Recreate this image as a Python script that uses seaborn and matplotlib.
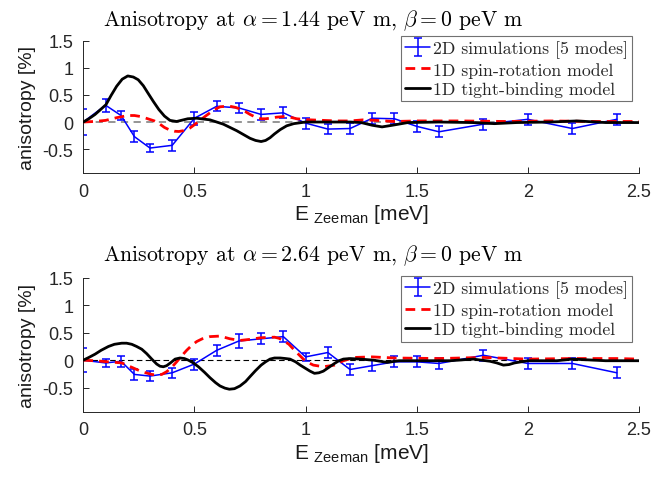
import numpy as np
import pandas as pd
import matplotlib
matplotlib.use("Agg")
import matplotlib.pyplot as plt
import seaborn as sns

sns.set_theme(style="white")
plt.rcParams['font.family'] = ['Liberation Sans', 'DejaVu Sans']
plt.rcParams['mathtext.fontset'] = 'custom'
plt.rcParams['mathtext.rm'] = 'Liberation Sans'
plt.rcParams['mathtext.it'] = 'Liberation Sans:italic'

# ---------------- data ----------------
sim_x = [0, 0.1, 0.17, 0.23, 0.3, 0.4, 0.5, 0.6, 0.7, 0.8, 0.9, 1.0, 1.1, 1.2,
         1.3, 1.4, 1.5, 1.6, 1.8, 2.0, 2.2, 2.4]
sim_top = [0, 0.31, 0.12, -0.27, -0.48, -0.43, 0.07, 0.29, 0.26, 0.14, 0.17, -0.02,
           -0.13, -0.12, 0.07, 0.06, -0.08, -0.18, -0.04, 0.05, -0.12, 0.05]
err_top = [0.24, 0.12, 0.08, 0.1, 0.08, 0.1, 0.12, 0.09, 0.09, 0.1, 0.1, 0.1,
           0.1, 0.1, 0.1, 0.1, 0.1, 0.1, 0.1, 0.1, 0.1, 0.1]
sim_bot = [0, -0.05, -0.02, -0.26, -0.29, -0.23, -0.07, 0.18, 0.35, 0.39, 0.43, 0.06,
           0.14, -0.17, -0.1, -0.03, -0.03, -0.06, 0.09, -0.06, -0.06, -0.23]
err_bot = [0.22, 0.08, 0.1, 0.1, 0.09, 0.09, 0.1, 0.1, 0.12, 0.1, 0.1, 0.08,
           0.1, 0.1, 0.1, 0.1, 0.1, 0.1, 0.1, 0.1, 0.1, 0.1]

sr_top_x = [0, 0.05, 0.1, 0.15, 0.2, 0.23, 0.26, 0.29, 0.32, 0.345, 0.365, 0.39,
            0.41, 0.43, 0.45, 0.465, 0.48, 0.5, 0.525, 0.55, 0.57, 0.59, 0.615,
            0.64, 0.66, 0.685, 0.705, 0.73, 0.75, 0.775, 0.8, 0.82, 0.84, 0.87,
            0.9, 0.93, 0.96, 1.02, 1.08, 1.14, 1.2, 1.26, 1.32, 1.4, 1.5, 1.7,
            1.9, 2.1, 2.3, 2.5]
sr_top_y = [0, 0.01, 0.03, 0.08, 0.12, 0.12, 0.1, 0.06, 0.02, -0.04, -0.1, -0.15,
            -0.17, -0.175, -0.16, -0.14, -0.11, -0.05, 0.03, 0.11, 0.17, 0.23, 0.28,
            0.29, 0.29, 0.27, 0.24, 0.19, 0.14, 0.09, 0.06, 0.06, 0.07, 0.09,
            0.1, 0.09, 0.06, 0.04, 0.03, 0.02, 0.02, 0.04, 0.03, 0.01, 0.02, 0.02,
            0.01, 0.02, 0.01, 0.01]

tb_top_x = [0, 0.025, 0.053, 0.075, 0.102, 0.125, 0.15, 0.175, 0.2, 0.225, 0.247,
            0.27, 0.29, 0.315, 0.34, 0.365, 0.39, 0.42, 0.47, 0.51, 0.57, 0.6,
            0.63, 0.66, 0.69, 0.72, 0.75, 0.775, 0.8, 0.82, 0.84, 0.86, 0.886,
            0.915, 0.947, 1.0, 1.1, 1.2, 1.25, 1.3, 1.344, 1.39, 1.46, 1.6, 1.75,
            1.85, 1.95, 2.1, 2.22, 2.35, 2.5]
tb_top_y = [0, 0.06, 0.14, 0.22, 0.32, 0.49, 0.66, 0.79, 0.85, 0.83, 0.78,
            0.67, 0.54, 0.38, 0.23, 0.11, 0.03, 0.01, 0.06, 0.07, 0.04, 0.0,
            -0.04, -0.1, -0.16, -0.23, -0.3, -0.34, -0.36, -0.34, -0.29, -0.22, -0.14,
            -0.07, -0.03, 0.0, 0.0, 0.0, -0.01, -0.06, -0.09, -0.06, -0.01, 0.0, -0.01,
            -0.03, -0.01, 0.0, 0.02, -0.01, -0.01]

sr_bot_x = [0, 0.053, 0.113, 0.173, 0.218, 0.263, 0.308, 0.33, 0.353, 0.375, 0.398,
            0.42, 0.443, 0.465, 0.488, 0.51, 0.535, 0.57, 0.615, 0.66, 0.705,
            0.75, 0.8, 0.86, 0.88, 0.9, 0.925, 0.946, 0.97, 0.99, 1.01, 1.035,
            1.08, 1.13, 1.17, 1.22, 1.3, 1.4, 1.6, 1.8, 2.0, 2.2, 2.4, 2.5]
sr_bot_y = [0, -0.01, -0.03, -0.05, -0.13, -0.21, -0.26, -0.27, -0.26, -0.21, -0.13,
            -0.03, 0.08, 0.18, 0.27, 0.34, 0.39, 0.43, 0.44, 0.39, 0.36,
            0.38, 0.41, 0.42, 0.4, 0.36, 0.29, 0.2, 0.1, 0.02, -0.04, -0.09,
            -0.12, -0.09, -0.01, 0.05, 0.06, 0.04, 0.03, 0.05, 0.02, 0.03, 0.03, 0.02]

tb_bot_x = [0, 0.025, 0.053, 0.08, 0.113, 0.14, 0.173, 0.195, 0.218, 0.24, 0.263,
            0.285, 0.308, 0.33, 0.345, 0.36, 0.375, 0.395, 0.413, 0.435, 0.455,
            0.473, 0.495, 0.518, 0.545, 0.57, 0.595, 0.615, 0.637, 0.657, 0.68,
            0.705, 0.73, 0.75, 0.775, 0.8, 0.82, 0.84, 0.86, 0.886, 0.91, 0.93,
            0.955, 0.976, 1.0, 1.02, 1.04, 1.06, 1.08, 1.105, 1.13, 1.15, 1.17,
            1.2, 1.246, 1.306, 1.336, 1.366, 1.42, 1.53, 1.65, 1.755, 1.83, 1.86,
            1.89, 1.915, 1.94, 2.0, 2.13, 2.2, 2.35, 2.5]
tb_bot_y = [0, 0.05, 0.11, 0.18, 0.25, 0.29, 0.31, 0.31, 0.29, 0.25, 0.2,
            0.12, 0.02, -0.07, -0.11, -0.12, -0.1, -0.04, 0.02, 0.04, 0.03,
            0.0, -0.05, -0.12, -0.22, -0.32, -0.41, -0.47, -0.51, -0.53, -0.52,
            -0.47, -0.39, -0.3, -0.19, -0.09, -0.03, 0.02, 0.04, 0.04, 0.03, 0.02,
            -0.03, -0.09, -0.15, -0.2, -0.24, -0.23, -0.2, -0.13, -0.06, -0.01, 0.02,
            0.03, 0.02, 0.0, -0.02, -0.04, -0.01, -0.01, -0.01, 0.02, -0.02, -0.05,
            -0.09, -0.08, -0.05, -0.01, -0.01, 0.02, -0.01, -0.01]

titles = [r"Anisotropy at $\alpha = 1.44$ peV m, $\beta = 0$ peV m",
          r"Anisotropy at $\alpha = 2.64$ peV m, $\beta = 0$ peV m"]
legend_labels = ["2D simulations [5 modes]", "1D spin-rotation model",
                 "1D tight-binding model"]
xticks = [0, 0.5, 1, 1.5, 2, 2.5]
xtick_labels = ["0", "0.5", "1", "1.5", "2", "2.5"]
yticks = [-0.5, 0, 0.5, 1, 1.5]
ytick_labels = ["-0.5", "0", "0.5", "1", "1.5"]

# ---------------- figure ----------------
fig = plt.figure(figsize=(6.68, 4.81), dpi=100)
ax_top = fig.add_axes([0.1247, 0.6383, 0.8319, 0.2750])
ax_bot = fig.add_axes([0.1247, 0.1420, 0.8319, 0.2780])

panels = [
    (ax_top, sim_top, err_top, sr_top_x, sr_top_y, tb_top_x, tb_top_y, titles[0],
     dict(color='0.55', lw=1.3, dashes=(4, 3)), 1.035, 0.958),
    (ax_bot, sim_bot, err_bot, sr_bot_x, sr_bot_y, tb_bot_x, tb_bot_y, titles[1],
     dict(color='black', lw=0.8, dashes=(5, 3)), 1.013, 0.468),
]

for ax, sy, se, rx, ry, bx, by, title, zl, ltop, ty in panels:
    ax.plot([0, 2.5], [0, 0], **zl, zorder=1)
    eb = ax.errorbar(sim_x, sy, yerr=se, color=(0, 0, 1), lw=1.1, capsize=3,
                     capthick=1.1, elinewidth=1.1, zorder=2)
    sns.lineplot(x=rx, y=ry, ax=ax, color=(1, 0, 0), lw=2.0, sort=False,
                 estimator=None, zorder=3)
    ax.lines[-1].set_dashes((3.5, 2.2))
    sns.lineplot(x=bx, y=by, ax=ax, color='black', lw=2.0, sort=False,
                 estimator=None, zorder=4)
    handles = [eb, ax.lines[-2], ax.lines[-1]]
    leg = ax.legend(handles, legend_labels, loc='upper right',
                    bbox_to_anchor=(0.988, ltop), frameon=True, fancybox=False,
                    prop={'family': 'cmr10', 'size': 12.8}, handlelength=1.4,
                    handletextpad=0.15, borderpad=0.25, labelspacing=0.2,
                    borderaxespad=0)
    leg.get_frame().set_edgecolor('0.3')
    leg.get_frame().set_linewidth(0.8)
    ax.set_xlim(0, 2.5)
    ax.set_ylim(-0.94, 1.5)
    ax.set_xticks(xticks)
    ax.set_xticklabels(xtick_labels)
    ax.set_yticks(yticks)
    ax.set_yticklabels(ytick_labels)
    ax.tick_params(direction='in', length=4, width=0.7, labelsize=13,
                   colors='0.15', left=True, bottom=True, pad=7)
    for s in ['top', 'right']:
        ax.spines[s].set_visible(False)
    for s in ['left', 'bottom']:
        ax.spines[s].set_color('0.15')
        ax.spines[s].set_linewidth(0.7)
    fig.text(0.4686, ty, title, family='cmr10', math_fontfamily='cm',
             fontsize=15.7, ha='center', va='center', color='black')
    ax.set_xlabel(r"E $_{\mathrm{Zeeman}}$ [meV]", fontsize=15, labelpad=2,
                  color='0.1')
    ax.set_ylabel("anisotropy [%]", fontsize=14, labelpad=5, color='0.1')
    ax.set_facecolor('white')

fig.savefig("out.png", dpi=100, facecolor='white')
